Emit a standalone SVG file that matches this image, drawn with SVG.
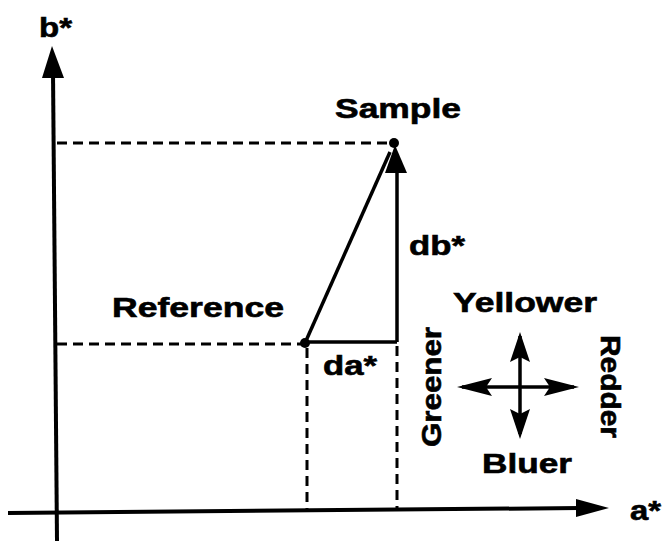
<svg xmlns="http://www.w3.org/2000/svg" width="664" height="541" viewBox="0 0 664 541">
<style>
text{font-family:"Liberation Sans",Arial,sans-serif;font-weight:bold;font-size:27px;fill:#000;stroke:#000;stroke-width:0.6}
.ax{stroke:#000;stroke-width:4;fill:none}
.ln{stroke:#000;stroke-width:3.5;fill:none}
.dash{stroke:#000;stroke-width:3;stroke-dasharray:10 6;fill:none}
.ah{fill:#000;stroke:none}
</style>
<rect width="664" height="541" fill="#fff"/>
<g id="connectors">
<line class="ax" x1="57" y1="541" x2="53" y2="72"/>
<polygon class="ah" points="52,46 64,78 42,78"/>
<line class="ax" x1="8" y1="513" x2="580" y2="508"/>
<polygon class="ah" points="609,508 576,499 576,517"/>
<line class="dash" x1="57" y1="143" x2="390" y2="143"/>
<line class="dash" x1="57" y1="344" x2="302" y2="344"/>
<line class="dash" x1="307" y1="348" x2="307" y2="510"/>
<line class="dash" x1="397" y1="346" x2="397" y2="510"/>
<line class="ln" x1="305" y1="343" x2="390" y2="152"/>
<line class="ln" x1="305" y1="342" x2="397" y2="342"/>
<line class="ln" x1="397" y1="342" x2="397" y2="168"/>
<polygon class="ah" points="395,145 407,173 385,173"/>
<circle cx="305" cy="343" r="5"/>
<circle cx="394" cy="143" r="5"/>
</g>
<g id="compass">
<line class="ln" x1="462" y1="387" x2="574" y2="387"/>
<line class="ln" x1="520" y1="336" x2="520" y2="434"/>
<polygon class="ah" points="457,387 492,378 486,387 492,396"/>
<polygon class="ah" points="579,387 544,378 550,387 544,396"/>
<polygon class="ah" points="520,332 530,362 520,357 510,362"/>
<polygon class="ah" points="520,439 530,409 520,414 510,409"/>
</g>
<g id="labels">
<text x="39" y="37" textLength="33" lengthAdjust="spacingAndGlyphs">b*</text>
<text x="630" y="520" textLength="31" lengthAdjust="spacingAndGlyphs">a*</text>
<text id="sample" x="335" y="118" textLength="126" lengthAdjust="spacingAndGlyphs">Sample</text>
<text id="reference" x="112" y="317" textLength="172" lengthAdjust="spacingAndGlyphs">Reference</text>
<text x="409" y="255" textLength="56" lengthAdjust="spacingAndGlyphs">db*</text>
<text x="323" y="375" textLength="54" lengthAdjust="spacingAndGlyphs">da*</text>
<text x="453" y="312" textLength="144" lengthAdjust="spacingAndGlyphs">Yellower</text>
<text x="482" y="473" textLength="90" lengthAdjust="spacingAndGlyphs">Bluer</text>
<text transform="translate(441,447) rotate(-90)" textLength="120" lengthAdjust="spacingAndGlyphs">Greener</text>
<text transform="translate(601,335) rotate(90)" textLength="103" lengthAdjust="spacingAndGlyphs">Redder</text>
</g>
</svg>
